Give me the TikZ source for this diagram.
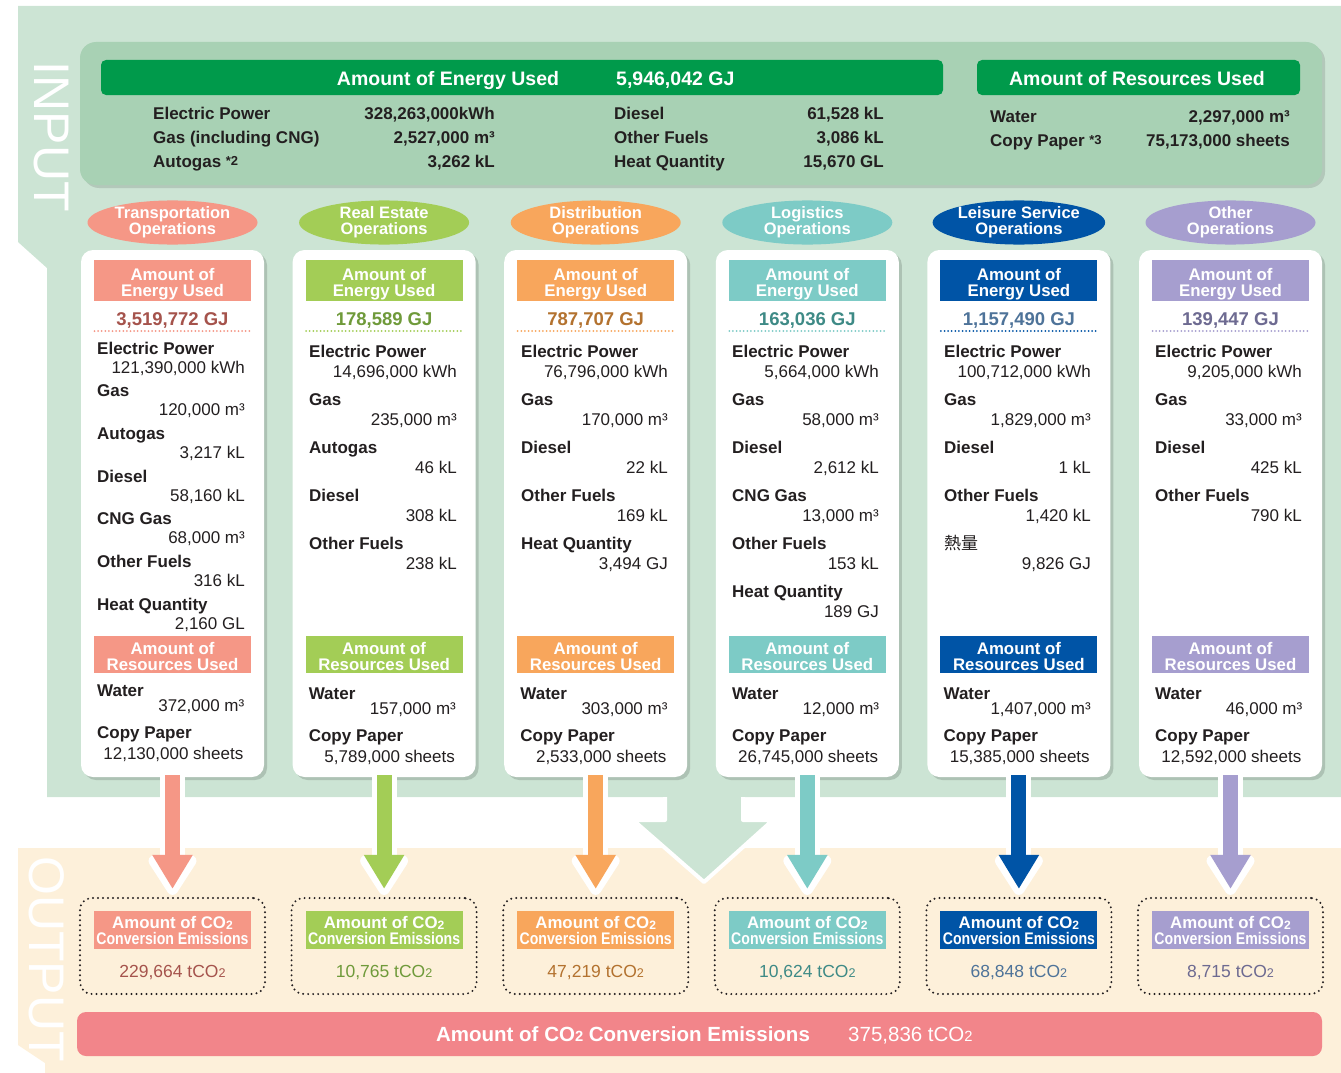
\documentclass[tikz,border=0pt]{standalone}
\usepackage{fontspec}
\setmainfont{Liberation Sans}
\newfontfamily\cjk{Noto Sans CJK JP}
\usetikzlibrary{arrows.meta,shapes.geometric,shadows,positioning}
\definecolor{inbg}{HTML}{CCE4D4}
\definecolor{inbox}{HTML}{A8D1B4}
\definecolor{bargreen}{HTML}{009A4B}
\definecolor{outbg}{HTML}{FDF0DA}
\definecolor{totalred}{HTML}{F2858A}
\definecolor{txt}{HTML}{231F20}
\definecolor{ctrans}{HTML}{F59786}
\definecolor{creal}{HTML}{A3CD56}
\definecolor{cdist}{HTML}{F8A65C}
\definecolor{clogi}{HTML}{7DCBC6}
\definecolor{cleis}{HTML}{0054A6}
\definecolor{cother}{HTML}{A69ECF}
\definecolor{vtrans}{HTML}{A5534C}
\definecolor{vreal}{HTML}{6F9A3A}
\definecolor{vdist}{HTML}{B3722F}
\definecolor{vlogi}{HTML}{3E8A86}
\definecolor{vleis}{HTML}{4E7399}
\definecolor{vother}{HTML}{6D6A91}
\newcommand{\ctwo}{\raisebox{-0.02em}{\scalebox{0.72}{2}}}
\newcommand{\note}[1]{\raisebox{1.5pt}{\fontsize{13}{13}\selectfont *#1}}
\tikzset{
    lab/.style={anchor=base west, inner sep=0pt, text=txt, font=\fontsize{17}{17}\selectfont\bfseries},
    val/.style={anchor=base east, inner sep=0pt, text=txt, font=\fontsize{17}{17}\selectfont},
    topval/.style={val, font=\fontsize{17}{17}\selectfont\bfseries},
    bartxt/.style={anchor=base, inner sep=0pt, text=white, font=\fontsize{19.5}{19.5}\selectfont\bfseries},
    colbox/.style={fill=white, rounded corners=12pt, minimum width=183pt, minimum height=527pt,
        drop shadow={opacity=0.15, fill=black, shadow xshift=3pt, shadow yshift=-3pt}},
    hdr/.style={fill=#1, text=white, minimum width=157pt, inner sep=0pt, align=center,
        font=\fontsize{16.8}{15.8}\selectfont\bfseries},
    opsoval/.style={ellipse, fill=#1, minimum width=170pt, minimum height=42pt, inner sep=0pt,
        text=white, align=center, font=\fontsize{16.5}{15.8}\selectfont\bfseries},
    dotline/.style={line width=2pt, line cap=round, dash pattern=on 0pt off 3.6pt},
    outbox/.style={draw=txt, line width=2.2pt, line cap=round, dash pattern=on 0pt off 5pt,
        rounded corners=12pt, minimum width=185pt, minimum height=96pt},
}

\begin{document}
\begin{tikzpicture}[x=1pt, y=-1pt]
    \useasboundingbox (0,0) rectangle (1341,1073);
    %input and output areas
    \fill[inbg] (18,6) -- (1341,6) -- (1341,797) -- (47,797) -- (47,268) -- (18,242) -- cycle;
    \fill[outbg] (18,848) -- (1341,848) -- (1341,1073) -- (45,1073) -- (45,1063) -- (18,1045) -- cycle;
    \fill[inbg] (665,796) -- (665,820) -- (633,820) -- (704,882) -- (773,820) -- (743,820) -- (743,796) -- cycle;
    \draw[white, line width=4pt, line join=round] (665,797) -- (665,820) -- (633,820) -- (704,882) -- (773,820) -- (743,820) -- (743,797);
    \node[rotate=-90, inner sep=0pt, text=white, font=\fontsize{50}{50}\selectfont] (inlabel) at (51,137) {INPUT};
    \node[rotate=-90, inner sep=0pt, text=white, font=\fontsize{50}{50}\selectfont] (outlabel) at (47,959) {OUTPUT};

    %totals
    \node[fill=inbox, rounded corners=16pt, minimum width=1242pt, minimum height=143pt,
        drop shadow={opacity=0.12, fill=black, shadow xshift=3pt, shadow yshift=-3pt}] (inbox) at (701,113.5) {};
    \node[fill=bargreen, rounded corners=5pt, minimum width=842pt, minimum height=35pt] (ebar) at (522,77.5) {};
    \node[fill=bargreen, rounded corners=5pt, minimum width=323pt, minimum height=35pt] (rbar) at (1138.5,77.5) {};
    \node[bartxt] (etitle) at (448,85) {Amount of Energy Used};
    \node[bartxt, anchor=base west] (etotal) at (616,85) {5,946,042 GJ};
    \node[bartxt] (rtitle) at (1137,85) {Amount of Resources Used};
    \node[lab] (tep) at (153,119) {Electric Power};
    \node[topval] (tepv) at (495,119) {328,263,000kWh};
    \node[lab] (tgas) at (153,143) {Gas (including CNG)};
    \node[topval] (tgasv) at (495,143) {2,527,000 m³};
    \node[lab] (tauto) at (153,167) {Autogas \note{2}};
    \node[topval] (tautov) at (495,167) {3,262 kL};
    \node[lab] (tdie) at (614,119) {Diesel};
    \node[topval] (tdiev) at (884,119) {61,528 kL};
    \node[lab] (toth) at (614,143) {Other Fuels};
    \node[topval] (tothv) at (884,143) {3,086 kL};
    \node[lab] (theat) at (614,167) {Heat Quantity};
    \node[topval] (theatv) at (884,167) {15,670 GL};
    \node[lab] (twat) at (990,122) {Water};
    \node[topval] (twatv) at (1290,122) {2,297,000 m³};
    \node[lab] (tpap) at (990,146) {Copy Paper \note{3}};
    \node[topval] (tpapv) at (1290,146) {75,173,000 sheets};

    %columns
    \foreach \i/\clr/\vclr/\ops/\gj/\co/\wat/\pap in {
        1/ctrans/vtrans/{Transportation\\Operations}/{3,519,772 GJ}/{229,664}/{372,000 m³}/{12,130,000 sheets},
        2/creal/vreal/{Real Estate\\Operations}/{178,589 GJ}/{10,765}/{157,000 m³}/{5,789,000 sheets},
        3/cdist/vdist/{Distribution\\Operations}/{787,707 GJ}/{47,219}/{303,000 m³}/{2,533,000 sheets},
        4/clogi/vlogi/{Logistics\\Operations}/{163,036 GJ}/{10,624}/{12,000 m³}/{26,745,000 sheets},
        5/cleis/vleis/{Leisure Service\\Operations}/{1,157,490 GJ}/{68,848}/{1,407,000 m³}/{15,385,000 sheets},
        6/cother/vother/{Other\\Operations}/{139,447 GJ}/{8,715}/{46,000 m³}/{12,592,000 sheets}} {
        \pgfmathsetmacro{\cx}{172.5+211.6*(\i-1)}
        \pgfmathsetmacro{\dy}{(\i==1)*(-2.5)}
        \node[colbox] (box\i) at (\cx,513.5) {};
        \node[opsoval=\clr] (ops\i) at (\cx,222.5) {\ops};
        \node[hdr=\clr, minimum height=41pt, text height=31pt, text depth=0pt] (eh\i) at (\cx,280.5) {Amount of\\Energy Used};
        \node[anchor=base, inner sep=0pt, text=\vclr, font=\fontsize{18.5}{18.5}\selectfont\bfseries] (gj\i) at (\cx,325) {\gj};
        \draw[dotline, \clr] ({\cx-78},331) -- ({\cx+78},331);
        \node[hdr=\clr, minimum height=37pt, text height=31pt, text depth=0pt] (rh\i) at (\cx,654.5) {Amount of\\Resources Used};
        \node[lab] (wat\i) at ({\cx-75.5},{699+\dy}) {Water};
        \node[val] (watv\i) at ({\cx+72},{714+\dy}) {\wat};
        \node[lab] (pap\i) at ({\cx-75.5},{741+\dy}) {Copy Paper};
        \node[val] (papv\i) at ({\cx+71},{762+\dy}) {\pap};
        \node[outbox] (out\i) at (\cx,946) {};
        \node[hdr=\clr, minimum height=38pt, text height=29pt, text depth=0pt] (oh\i) at (\cx,930) {Amount of CO\ctwo\\\scalebox{0.84}[1]{Conversion Emissions}};
        \node[anchor=base, inner sep=0pt, text=\vclr, font=\fontsize{17.5}{17.5}\selectfont] (co\i) at (\cx,977) {\co\ tCO\ctwo};
        \draw[white, line width=25pt, -{Triangle[round, length=45pt, width=54pt]}] (box\i.south) -- ([yshift=2pt]out\i.north);
        \draw[\clr, line width=15pt, -{Triangle[length=34pt, width=38pt]}] ([yshift=2pt]box\i.south) -- ([yshift=8pt]out\i.north);
    }

    %transportation
    \foreach \lab/\val [count=\k] in {Electric Power/{121,390,000 kWh},Gas/{120,000 m³},Autogas/{3,217 kL},Diesel/{58,160 kL},CNG Gas/{68,000 m³},Other Fuels/{316 kL},Heat Quantity/{2,160 GL}} {
        \node[lab] (lab1\k) at (97,{354+42.67*(\k-1)}) {\lab};
        \node[val] (val1\k) at (245,{373+42.67*(\k-1)}) {\val};
    }
    %real estate
    \foreach \lab/\val [count=\k] in {Electric Power/{14,696,000 kWh},Gas/{235,000 m³},Autogas/{46 kL},Diesel/{308 kL},Other Fuels/{238 kL}} {
        \node[lab] (lab2\k) at (309,{357+48*(\k-1)}) {\lab};
        \node[val] (val2\k) at (457,{377+48*(\k-1)}) {\val};
    }
    %distribution
    \foreach \lab/\val [count=\k] in {Electric Power/{76,796,000 kWh},Gas/{170,000 m³},Diesel/{22 kL},Other Fuels/{169 kL},Heat Quantity/{3,494 GJ}} {
        \node[lab] (lab3\k) at (521,{357+48*(\k-1)}) {\lab};
        \node[val] (val3\k) at (668,{377+48*(\k-1)}) {\val};
    }
    %logistics
    \foreach \lab/\val [count=\k] in {Electric Power/{5,664,000 kWh},Gas/{58,000 m³},Diesel/{2,612 kL},CNG Gas/{13,000 m³},Other Fuels/{153 kL},Heat Quantity/{189 GJ}} {
        \node[lab] (lab4\k) at (732,{357+48*(\k-1)}) {\lab};
        \node[val] (val4\k) at (879,{377+48*(\k-1)}) {\val};
    }
    %leisure
    \foreach \lab/\val [count=\k] in {Electric Power/{100,712,000 kWh},Gas/{1,829,000 m³},Diesel/{1 kL},Other Fuels/{1,420 kL},{\mdseries\cjk 熱量}/{9,826 GJ}} {
        \node[lab] (lab5\k) at (944,{357+48*(\k-1)}) {\lab};
        \node[val] (val5\k) at (1091,{377+48*(\k-1)}) {\val};
    }
    %other
    \foreach \lab/\val [count=\k] in {Electric Power/{9,205,000 kWh},Gas/{33,000 m³},Diesel/{425 kL},Other Fuels/{790 kL}} {
        \node[lab] (lab6\k) at (1155,{357+48*(\k-1)}) {\lab};
        \node[val] (val6\k) at (1302,{377+48*(\k-1)}) {\val};
    }

    %output total
    \node[fill=totalred, rounded corners=9pt, minimum width=1245pt, minimum height=44pt] (total) at (699.5,1034) {};
    \node[bartxt, font=\fontsize{20.5}{20.5}\selectfont\bfseries] (ttitle) at (623,1041) {Amount of CO\ctwo\ Conversion Emissions};
    \node[bartxt, anchor=base west, font=\fontsize{20.5}{20.5}\selectfont] (tvalue) at (848,1041) {375,836 tCO\ctwo};
\end{tikzpicture}
\end{document}
